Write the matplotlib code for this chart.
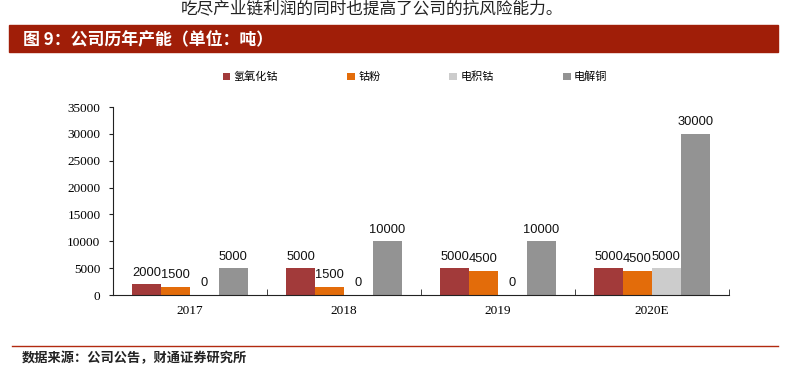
import matplotlib
matplotlib.use("Agg")
import matplotlib.pyplot as plt
import numpy as np

plt.rcParams['font.family'] = ['Noto Sans CJK SC', 'DejaVu Sans']

years = ["2017", "2018", "2019", "2020E"]
series_names = ["氢氧化钴", "钴粉", "电积钴", "电解铜"]
cobalt_hydroxide = [2000, 5000, 5000, 5000]
cobalt_powder = [1500, 1500, 4500, 4500]
electro_cobalt = [0, 0, 0, 5000]
electro_copper = [5000, 10000, 10000, 30000]
colors = ["#A23A3A", "#E36C0A", "#CCCCCC", "#939393"]

W, H = 790, 367
fig = plt.figure(figsize=(W / 100, H / 100), dpi=100)

# header text and banner
fig.text(372 / W, 1 - 9 / H, "吃尽产业链利润的同时也提高了公司的抗风险能力。",
         ha="center", va="center", fontsize=12, color="#222222")
fig.patches.append(plt.Rectangle((9 / W, 1 - 52 / H), 769 / W, 27 / H,
                                 transform=fig.transFigure, color="#A01E08"))
fig.text(23 / W, 1 - 39.5 / H, "图 9：公司历年产能（单位：吨）", ha="left", va="center",
         fontsize=12.2, color="white", fontweight="bold")

# footer
fig.lines.append(plt.Line2D([12 / W, 778 / W], [1 - 346 / H, 1 - 346 / H],
                            transform=fig.transFigure, color="#B22A10", lw=1))
fig.text(22 / W, 1 - 358 / H, "数据来源：公司公告，财通证券研究所", ha="left", va="center",
         fontsize=9.5, color="#222222", fontweight="bold")

ax = fig.add_axes([113 / W, 1 - 295 / H, 616 / W, 188 / H])

data = [cobalt_hydroxide, cobalt_powder, electro_cobalt, electro_copper]
x = np.arange(len(years))
width = 0.187
for i, (vals, name, c) in enumerate(zip(data, series_names, colors)):
    bars = ax.bar(x + (i - 1.5) * width, vals, width, color=c, label=name)
    for b, v in zip(bars, vals):
        ax.annotate(str(v), (b.get_x() + b.get_width() / 2, v),
                    xytext=(0, 4), textcoords="offset points", ha="center",
                    va="bottom", fontsize=9.3, family="Liberation Sans",
                    color="#111111")

ax.set_xlim(-0.5, 3.5)
ax.set_ylim(0, 35000)
ax.set_yticks(range(0, 35001, 5000))
ax.set_xticks(x)
ax.set_xticklabels(years, family="Liberation Serif", fontsize=9.5)
for lab in ax.get_yticklabels():
    lab.set_family("Liberation Serif")
    lab.set_fontsize(9.5)
ax.set_xticks([-0.5, 0.5, 1.5, 2.5, 3.5], minor=True)
ax.tick_params(axis="x", which="major", length=0, pad=7)
ax.tick_params(axis="x", which="minor", length=4, direction="in", color="#222222")
ax.tick_params(axis="y", length=3, direction="out", pad=6, color="#222222")
for s in ["top", "right"]:
    ax.spines[s].set_visible(False)
for s in ["left", "bottom"]:
    ax.spines[s].set_color("#222222")

leg = fig.legend(loc="center", bbox_to_anchor=(415 / W, 1 - 77 / H), ncol=4,
                 frameon=False, fontsize=8, handlelength=0.7, handleheight=0.7,
                 columnspacing=6.2, handletextpad=0.3)

fig.savefig("out.png", dpi=100)
